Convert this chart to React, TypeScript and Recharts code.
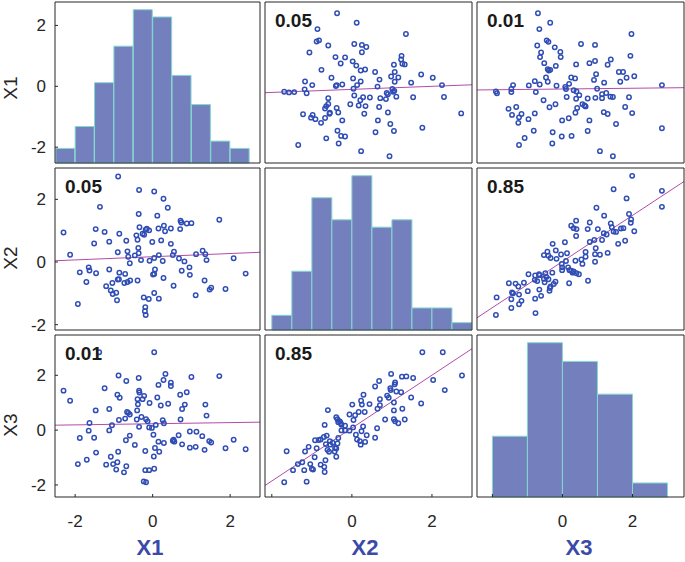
import React from "react"
import { Bar, ComposedChart, Line, Scatter, XAxis, YAxis } from "recharts"

// variable names and axis limits (same limits on rows and columns)
const varNames = ["X1", "X2", "X3"]
const x1Limits = [-2.52, 2.77]
const x2Limits = [-2.17, 3.0]
const x3Limits = [-2.44, 3.47]
const axisTicks = [-2, 0, 2]

// histogram bins (centres) and counts
const x1BinCenters = [-2.25, -1.75, -1.25, -0.75, -0.25, 0.25, 0.75, 1.25, 1.75, 2.25]
const x1Counts = [2, 5, 11, 16, 21, 20, 12, 8, 3, 2]
const x2BinCenters = [-1.75, -1.25, -0.75, -0.25, 0.25, 0.75, 1.25, 1.75, 2.25, 2.75]
const x2Counts = [2, 8, 18, 15, 21, 14, 15, 3, 3, 1]
const x3BinCenters = [-1.5, -0.5, 0.5, 1.5, 2.5]
const x3Counts = [13, 33, 29, 22, 3]

// observations, X1 against X2
const setX1X2_x1 = [
  -0.89, -0.35, 0.04, 0.28, -1.36, 0.39, -0.36, 0.12, 1.72, 0.72,
  0.74, 0.88, 1.0, -2.3, -1.47, -1.24, -0.86, -0.34, -0.15, -0.18,
  -0.09, 0.15, 0.29, 0.32, 0.47, 0.71, -0.26, -0.22, -0.42, -0.39,
  -1.51, -1.12, -0.68, -0.01, 0.22, 0.47, -0.37, -0.9, -0.65, -0.63,
  -0.46, -0.36, -0.3, -2.13, -0.59, 0.04, 0.16, -0.08, 0.26, 0.55,
  0.52, 0.68, 0.82, 1.12, 1.29, 1.36, 1.39, 2.09, -1.88, -1.65,
  -1.63, -1.46, -1.12, -0.86, -0.87, -0.71, -1.71, -1.2, -1.04, -0.9,
  -0.73, -0.65, -0.58, -0.39, -1.08, -1.03, -0.94, -0.92, 0.06, 0.04,
  0.01, 0.28, 0.75, 0.95, 0.96, 1.34, 0.54, 0.04, -0.23, -0.1,
  0.16, -0.19, -0.2, -0.18, 1.11, 1.47, 1.51, 1.88, 2.4, -1.93,
]
const setX1X2_x2 = [
  2.73, 2.3, 2.25, 2.02, 1.76, 1.73, 1.53, 1.48, 1.35, 1.32,
  1.26, 1.23, 1.24, 0.94, 1.05, 0.96, 0.9, 1.11, 1.06, 1.03,
  1.01, 1.07, 1.16, 0.98, 1.07, 1.05, 0.9, 0.87, 0.85, 0.71,
  0.59, 0.65, 0.68, 0.64, 0.69, 0.58, 0.45, 0.31, 0.34, 0.17,
  0.21, 0.28, 0.06, 0.23, -0.04, 0.13, 0.22, 0.04, 0.03, 0.33,
  0.22, 0.11, 0.02, 0.25, 0.36, 0.25, 0.06, 0.12, -0.33, -0.17,
  -0.27, -0.36, -0.24, -0.34, -0.55, -0.38, -0.64, -0.77, -0.67, -0.56,
  -0.67, -0.64, -0.59, -0.59, -0.91, -1.02, -0.98, -1.22, -0.24, -0.38,
  -0.4, -0.51, -0.28, -0.17, -0.41, -0.59, -0.76, -0.99, -1.13, -1.18,
  -1.17, -1.44, -1.57, -1.69, -1.06, -0.88, -0.82, -0.86, -0.37, -1.34,
]

// observations, X1 against X3
const setX1X3_x1 = [
  -1.38, 0.04, -0.88, -0.36, 0.33, 0.28, 0.47, 0.47, 1.0, 1.72,
  -0.68, 0.15, -2.3, -2.13, -1.24, -0.91, -0.85, -0.35, -0.34, -0.22,
  -0.26, -0.39, -0.38, -0.08, 0.12, 0.21, 0.4, 0.71, 0.88, 0.83,
  0.76, 1.36, 1.39, -1.47, -1.12, -0.66, -0.63, -0.59, -0.71, -0.87,
  -0.4, -0.29, -0.41, -0.17, -0.13, -0.35, -0.09, -0.02, 0.08, 0.26,
  0.29, 0.72, -1.63, -1.05, -1.65, -1.12, -1.88, -1.51, -1.46, -1.7,
  -1.93, -1.08, -1.2, -1.02, -0.91, -0.94, -0.68, -0.74, -0.89, -0.69,
  -0.59, -0.46, 0.02, 0.15, 0.29, 0.06, 0.17, -0.19, 0.03, -0.19,
  -0.09, 0.04, -0.23, -0.17, 0.54, 0.56, 0.67, 0.76, 0.96, 1.13,
  0.96, 1.11, 1.28, 1.34, 1.46, 1.51, 1.88, 2.09, 2.4, 0.52,
]
const setX1X3_x3 = [
  2.84, 2.84, 1.99, 1.9, 2.05, 1.83, 1.73, 1.61, 1.94, 1.97,
  1.79, 1.65, 1.44, 1.07, 1.53, 1.29, 1.18, 1.44, 1.37, 1.25,
  1.13, 1.13, 0.94, 0.99, 1.19, 0.9, 0.96, 1.29, 1.38, 0.93,
  0.77, 0.93, 0.53, 0.72, 0.77, 0.66, 0.63, 0.57, 0.42, 0.37,
  0.72, 0.48, 0.39, 0.4, 0.32, 0.12, 0.1, 0.08, 0.19, 0.36,
  0.25, 0.39, 0.26, 0.18, -0.02, -0.01, -0.29, -0.28, -0.82, -1.08,
  -1.24, -0.97, -1.26, -1.24, -1.17, -1.44, -1.32, -1.54, -0.79, -0.37,
  -0.2, -0.54, -0.17, -0.42, -0.47, -0.65, -0.79, -0.76, -0.96, -1.46,
  -1.46, -1.41, -1.87, -1.9, -0.35, -0.42, -0.19, -0.52, -0.05, -0.06,
  -0.64, -0.61, -0.22, -0.72, -0.4, -0.45, -0.66, -0.35, -0.7, -0.39,
]

// observations, X2 against X3
const setX2X3_x2 = [
  1.76, 2.27, 2.75, 2.03, 2.32, 0.98, 1.25, 1.36, 1.53, 0.68,
  0.58, 1.08, 1.07, 0.96, 0.97, 1.11, 1.23, 0.88, 0.92, 0.7,
  1.05, 1.48, 1.73, 0.29, 0.23, 0.25, 0.44, 0.01, 0.17, 0.32,
  -0.6, -0.06, 0.08, 0.04, 0.64, 0.7, 1.26, 1.05, 0.83, 1.05,
  1.08, 1.16, 1.32, -0.39, -0.36, -0.3, -0.28, -0.26, -0.68, -0.17,
  -0.26, 0.03, 0.28, 0.24, 0.63, 0.1, 0.37, 0.58, 0.13, 0.2,
  0.33, 0.22, -0.34, -0.63, -0.7, -0.92, -0.83, -0.78, -0.55, -0.65,
  -0.88, -0.61, -0.57, -0.42, -0.39, -0.43, -0.39, -0.36, -1.08, -1.17,
  -0.93, -1.63, -1.35, -1.24, -1.47, -1.04, -1.0, -1.19, -0.78, -0.69,
  -0.66, -0.68, -1.69, -1.13, -0.97, -0.48, -0.17, -0.06, -0.34, -0.54,
]
const setX2X3_x3 = [
  2.84, 2.84, 1.99, 1.83, 1.46, 2.05, 1.95, 1.96, 1.9, 1.79,
  1.59, 1.74, 1.67, 1.53, 1.46, 1.41, 1.38, 1.26, 1.18, 1.13,
  1.01, 1.19, 0.97, 1.29, 1.07, 0.93, 0.95, 0.93, 0.66, 0.66,
  0.73, 0.57, 0.54, 0.37, 0.78, 0.91, 0.78, 0.72, 0.39, 0.4,
  0.32, 0.25, 0.39, 0.47, 0.4, 0.32, 0.25, 0.2, 0.19, -0.01,
  -0.01, 0.1, 0.13, -0.04, 0.07, -0.17, -0.19, -0.28, -0.34, -0.4,
  -0.43, -0.53, -0.29, -0.2, -0.25, -0.37, -0.36, -0.34, -0.4, -0.51,
  -0.66, -0.72, -0.79, -0.65, -0.67, -0.78, -0.97, -0.49, -0.61, -0.78,
  -0.99, -0.77, -1.24, -1.17, -1.46, -1.24, -1.41, -1.46, -1.26, -1.34,
  -1.1, -1.53, -1.9, -1.88, -1.44, -0.46, 0.16, -0.02, 0.29, -0.53,
]

// least-squares lines, value at the left and right edge of the panel
const fitX2onX1 = [0.04, 0.31]
const fitX3onX1 = [0.18, 0.29]
const fitX3onX2 = [-2.02, 2.97]
const fitX1onX2 = [-0.21, 0.05]
const fitX1onX3 = [-0.12, -0.045]
const fitX2onX3 = [-1.78, 2.57]

// correlation coefficients shown in the panels
const corrX1X2 = "0.05"
const corrX1X3 = "0.01"
const corrX2X3 = "0.85"

const FONT = "'Liberation Sans', Arial, Helvetica, sans-serif"
const AXIS = "#262626"
const MARKER = "#2f4db5"
const FIT = "#b24ca8"
const HIST_FILL = "#7480bd"
const HIST_EDGE = "#84d8d0"
const LABEL_BLUE = "#3b4aa8"

const COL_LEFT = [55, 265, 477]
const COL_W = [205, 207, 207]
const ROW_TOP = [2, 168, 335]
const ROW_H = [161, 162, 162]
const PAD = 2
const LEFT_AXIS_W = 53
const BOTTOM_AXIS_H = 40
// an axis of size 0 is not drawn by recharts, so the plain frame sides get 1px
const EDGE_AXIS = 1

const limits = [x1Limits, x2Limits, x3Limits]
const hists = [
  { centers: x1BinCenters, counts: x1Counts },
  { centers: x2BinCenters, counts: x2Counts },
  { centers: x3BinCenters, counts: x3Counts },
]
const pairSets = [
  { a: 0, b: 1, av: setX1X2_x1, bv: setX1X2_x2, corr: corrX1X2 },
  { a: 0, b: 2, av: setX1X3_x1, bv: setX1X3_x3, corr: corrX1X3 },
  { a: 1, b: 2, av: setX2X3_x2, bv: setX2X3_x3, corr: corrX2X3 },
]
// key = row var + col var (y on x)
const fits: Record<string, number[]> = {
  "10": fitX2onX1,
  "20": fitX3onX1,
  "21": fitX3onX2,
  "01": fitX1onX2,
  "02": fitX1onX3,
  "12": fitX2onX3,
}

const findPair = (r: number, c: number) =>
  pairSets.find((p) => (p.a === r && p.b === c) || (p.a === c && p.b === r))!

const MarkerShape = (props: any) => (
  <circle cx={props.cx} cy={props.cy} r={2.2} fill="none" stroke={MARKER} strokeWidth={1.5} />
)

function Panel({ r, c }: { r: number; c: number }) {
  const leftW = c === 0 ? LEFT_AXIS_W : EDGE_AXIS
  const bottomH = r === 2 ? BOTTOM_AXIS_H : EDGE_AXIS
  const width = COL_W[c] + leftW + EDGE_AXIS + 2 * PAD
  const height = ROW_H[r] + bottomH + EDGE_AXIS + 2 * PAD
  const [x0, x1] = limits[c]
  const [y0, y1] = limits[r]
  const diag = r === c

  const cfg = React.useMemo(() => {
    if (diag) {
      const bins = hists[c].centers.map((x, i) => ({ x, count: hists[c].counts[i] }))
      return { bins, points: [], fitData: [] }
    }
    const p = findPair(r, c)
    const xs = p.a === c ? p.av : p.bv
    const ys = p.a === r ? p.av : p.bv
    const points = xs.map((x, i) => ({ x, y: ys[i] }))
    const f = fits[`${r}${c}`]
    const fitData = [
      { x: x0, y: f[0] },
      { x: x1, y: f[1] },
    ]
    return { bins: undefined, points, fitData }
  }, [r, c])

  const domains = React.useMemo(
    () => ({
      b: [x0, x1],
      t: [x0, x1],
      l: [y0, y1],
      r: [y0, y1],
      cnt: [0, Math.max(...hists[c].counts) * 1.05],
    }),
    [r, c]
  )

  const tickStyle = { fill: AXIS, fontSize: 17, fontFamily: FONT }
  const hideNeg = (v: number) => (v === -2 ? "" : String(v))

  return (
    <div
      style={{
        position: "absolute",
        left: COL_LEFT[c] - PAD - leftW,
        top: ROW_TOP[r] - PAD - EDGE_AXIS,
      }}
    >
      <ComposedChart
        width={width}
        height={height}
        data={cfg.bins}
        margin={{ top: PAD, right: PAD, bottom: PAD, left: PAD }}
        barCategoryGap={0}
        barGap={0}
      >
        <XAxis
          xAxisId="b"
          type="number"
          dataKey="x"
          domain={domains.b}
          allowDataOverflow
          ticks={axisTicks}
          interval={0}
          height={bottomH}
          tickSize={-3}
          tickMargin={21}
          tick={r === 2 ? tickStyle : false}
          tickFormatter={c > 0 ? hideNeg : undefined}
          axisLine={{ stroke: AXIS }}
          tickLine={{ stroke: AXIS }}
        />
        <XAxis
          xAxisId="t"
          orientation="top"
          type="number"
          domain={domains.t}
          allowDataOverflow
          ticks={axisTicks}
          interval={0}
          height={EDGE_AXIS}
          tickSize={-3}
          tick={false}
          axisLine={{ stroke: AXIS }}
          tickLine={{ stroke: AXIS }}
        />
        <YAxis
          yAxisId="l"
          type="number"
          dataKey="y"
          domain={domains.l}
          allowDataOverflow
          ticks={axisTicks}
          interval={0}
          width={leftW}
          tickSize={-3}
          tickMargin={12}
          tick={c === 0 ? tickStyle : false}
          axisLine={{ stroke: AXIS }}
          tickLine={{ stroke: AXIS }}
        />
        <YAxis
          yAxisId="r"
          orientation="right"
          type="number"
          domain={domains.r}
          allowDataOverflow
          ticks={axisTicks}
          interval={0}
          width={EDGE_AXIS}
          tickSize={-3}
          tick={false}
          axisLine={{ stroke: AXIS }}
          tickLine={{ stroke: AXIS }}
        />
        {diag && (
          // hidden count axis: zero width so it does not push the visible left/right axes
          <YAxis yAxisId="cnt" hide orientation="right" width={0} type="number" domain={domains.cnt} />
        )}
        {diag && (
          <Bar
            xAxisId="b"
            yAxisId="cnt"
            dataKey="count"
            fill={HIST_FILL}
            stroke={HIST_EDGE}
            strokeWidth={1}
            isAnimationActive={false}
          />
        )}
        {!diag && (
          <Line
            xAxisId="b"
            yAxisId="l"
            data={cfg.fitData}
            dataKey="y"
            type="linear"
            stroke={FIT}
            strokeWidth={1}
            dot={false}
            activeDot={false}
            isAnimationActive={false}
          />
        )}
        {!diag && (
          <Scatter
            xAxisId="b"
            yAxisId="l"
            data={cfg.points}
            shape={MarkerShape}
            isAnimationActive={false}
          />
        )}
      </ComposedChart>
    </div>
  )
}

export default function App() {
  const cells: { r: number; c: number }[] = []
  for (let r = 0; r < 3; r++) for (let c = 0; c < 3; c++) cells.push({ r, c })

  const rowLabelY = [88, 258, 425]
  const colLabelX = [150, 365, 579]

  return (
    <div
      style={{
        position: "absolute",
        left: 0,
        top: 0,
        width: 685,
        height: 562,
        background: "#fff",
        overflow: "hidden",
      }}
    >
      {cells.map(({ r, c }) => (
        <Panel key={`${r}-${c}`} r={r} c={c} />
      ))}
      <svg
        width={685}
        height={562}
        style={{ position: "absolute", left: 0, top: 0, pointerEvents: "none" }}
      >
        {varNames.map((name, i) => (
          <text
            key={`row-${name}`}
            x={16.5}
            y={rowLabelY[i]}
            transform={`rotate(-90 16.5 ${rowLabelY[i]})`}
            textAnchor="middle"
            fontFamily={FONT}
            fontSize={19}
            fill={AXIS}
          >
            {name}
          </text>
        ))}
        {varNames.map((name, i) => (
          <text
            key={`col-${name}`}
            x={colLabelX[i]}
            y={555}
            textAnchor="middle"
            fontFamily={FONT}
            fontSize={22}
            fontWeight="bold"
            fill={LABEL_BLUE}
          >
            {name}
          </text>
        ))}
        {cells
          .filter(({ r, c }) => r !== c)
          .map(({ r, c }) => (
            <text
              key={`corr-${r}-${c}`}
              x={COL_LEFT[c] + 10}
              y={ROW_TOP[r] + 25}
              fontFamily={FONT}
              fontSize={19}
              fontWeight="bold"
              fill="#1a1a1a"
            >
              {findPair(r, c).corr}
            </text>
          ))}
      </svg>
    </div>
  )
}
